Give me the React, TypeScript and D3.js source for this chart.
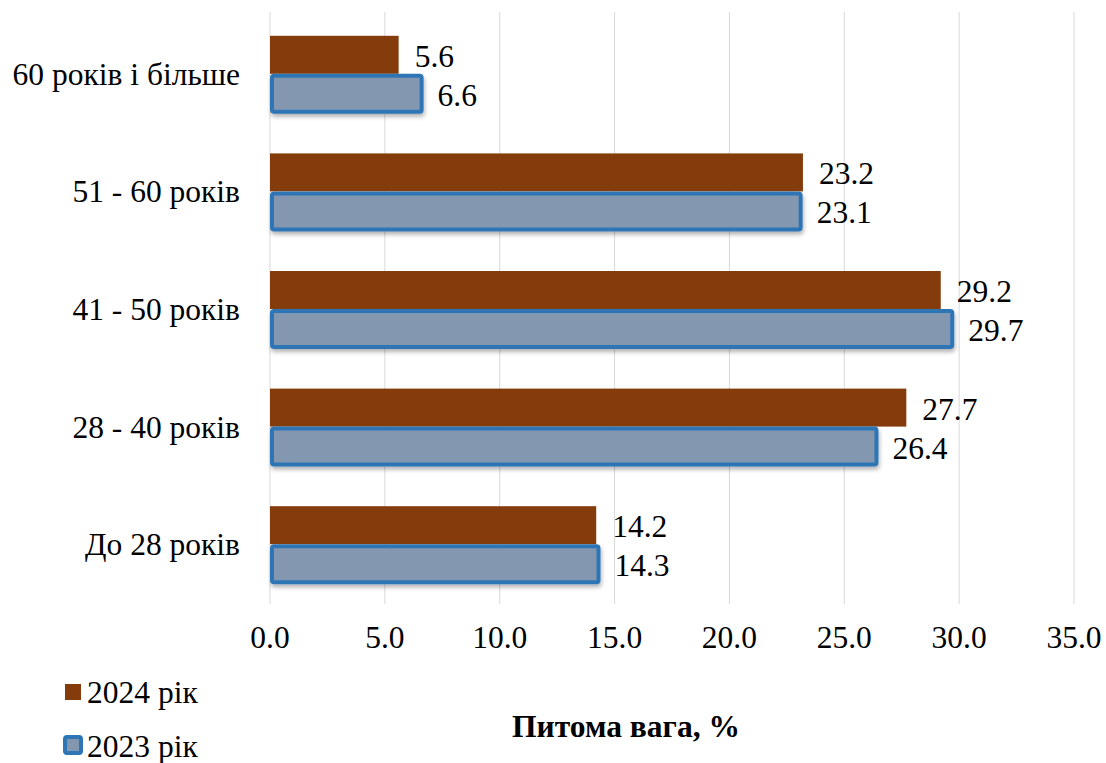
import React, { useEffect, useRef } from "react";
import * as d3 from "d3";

const categories = ["60 років і більше", "51 - 60 років", "41 - 50 років", "28 - 40 років", "До 28 років"];
const values2024 = [5.6, 23.2, 29.2, 27.7, 14.2];
const values2023 = [6.6, 23.1, 29.7, 26.4, 14.3];
const xTicks = [0, 5, 10, 15, 20, 25, 30, 35];
const seriesNames = ["2024 рік", "2023 рік"];

export default function App() {
  const ref = useRef<SVGSVGElement>(null);

  useEffect(() => {
    const svg = d3.select(ref.current);
    svg.selectAll("*").remove();
    const font = "Liberation Serif";
    const fs = 31.5;

    const x = d3.scaleLinear().domain([0, 35]).range([270, 1074]);
    const y = d3.scaleBand().domain(categories).range([16, 604]);
    const barH = 38;

    const defs = svg.append("defs");
    const f = defs.append("filter").attr("id", "shadow").attr("x", "-5%").attr("y", "-20%").attr("width", "110%").attr("height", "160%");
    f.append("feDropShadow").attr("dx", 1).attr("dy", 3).attr("stdDeviation", 2).attr("flood-color", "#000").attr("flood-opacity", 0.3);

    // gridlines
    svg.append("g")
      .selectAll("line")
      .data(xTicks)
      .enter()
      .append("line")
      .attr("x1", d => x(d))
      .attr("x2", d => x(d))
      .attr("y1", 12)
      .attr("y2", 604)
      .attr("stroke", "#d9d9d9")
      .attr("stroke-width", 1);

    const txt = (sel: any) =>
      sel.attr("font-family", font).attr("font-size", fs).attr("fill", "#000");

    // tick labels
    svg.append("g")
      .selectAll("text")
      .data(xTicks)
      .enter()
      .append("text")
      .attr("x", d => x(d))
      .attr("y", 648)
      .attr("text-anchor", "middle")
      .call(txt)
      .text(d => d.toFixed(1));

    // category labels
    svg.append("g")
      .selectAll("text")
      .data(categories)
      .enter()
      .append("text")
      .attr("x", 240)
      .attr("y", d => y(d)! + y.bandwidth() / 2 + 10)
      .attr("text-anchor", "end")
      .call(txt)
      .text(d => d);

    const center = (i: number) => y(categories[i])! + y.bandwidth() / 2 - 1;

    // 2024 bars
    svg.append("g")
      .selectAll("rect")
      .data(values2024)
      .enter()
      .append("rect")
      .attr("x", x(0))
      .attr("y", (d, i) => center(i) - barH)
      .attr("width", d => x(d) - x(0))
      .attr("height", barH)
      .attr("fill", "#843c0c");

    // 2023 bars
    svg.append("g")
      .selectAll("rect")
      .data(values2023)
      .enter()
      .append("rect")
      .attr("x", x(0) + 2)
      .attr("y", (d, i) => center(i) + 2)
      .attr("width", d => x(d) - x(0) - 2)
      .attr("height", barH - 2)
      .attr("rx", 2)
      .attr("fill", "#8497b0")
      .attr("stroke", "#2e75b6")
      .attr("stroke-width", 4)
      .attr("filter", "url(#shadow)");

    // value labels
    svg.append("g")
      .selectAll("text")
      .data(values2024)
      .enter()
      .append("text")
      .attr("x", d => x(d) + 16)
      .attr("y", (d, i) => center(i) - 7)
      .call(txt)
      .text(d => d.toFixed(1));

    svg.append("g")
      .selectAll("text")
      .data(values2023)
      .enter()
      .append("text")
      .attr("x", d => x(d) + 16)
      .attr("y", (d, i) => center(i) + barH - 6)
      .call(txt)
      .text(d => d.toFixed(1));

    // axis title
    svg.append("text")
      .attr("x", 626)
      .attr("y", 737)
      .attr("text-anchor", "middle")
      .call(txt)
      .attr("font-weight", "bold")
      .text("Питома вага, %");

    // legend
    const lg = svg.append("g");
    lg.append("rect").attr("x", 65).attr("y", 684).attr("width", 16).attr("height", 16).attr("fill", "#843c0c");
    lg.append("rect").attr("x", 65).attr("y", 737).attr("width", 16).attr("height", 16).attr("rx", 2)
      .attr("fill", "#8497b0").attr("stroke", "#2e75b6").attr("stroke-width", 4);
    lg.selectAll("text")
      .data(seriesNames)
      .enter()
      .append("text")
      .attr("x", 87)
      .attr("y", (d, i) => 703 + i * 54)
      .call(txt)
      .text(d => d);
  }, []);

  return (
    <div style={{ position: "fixed", left: 0, top: 0 }}>
      <svg ref={ref} width={1106} height={763} style={{ display: "block", background: "#fff" }} />
    </div>
  );
}
